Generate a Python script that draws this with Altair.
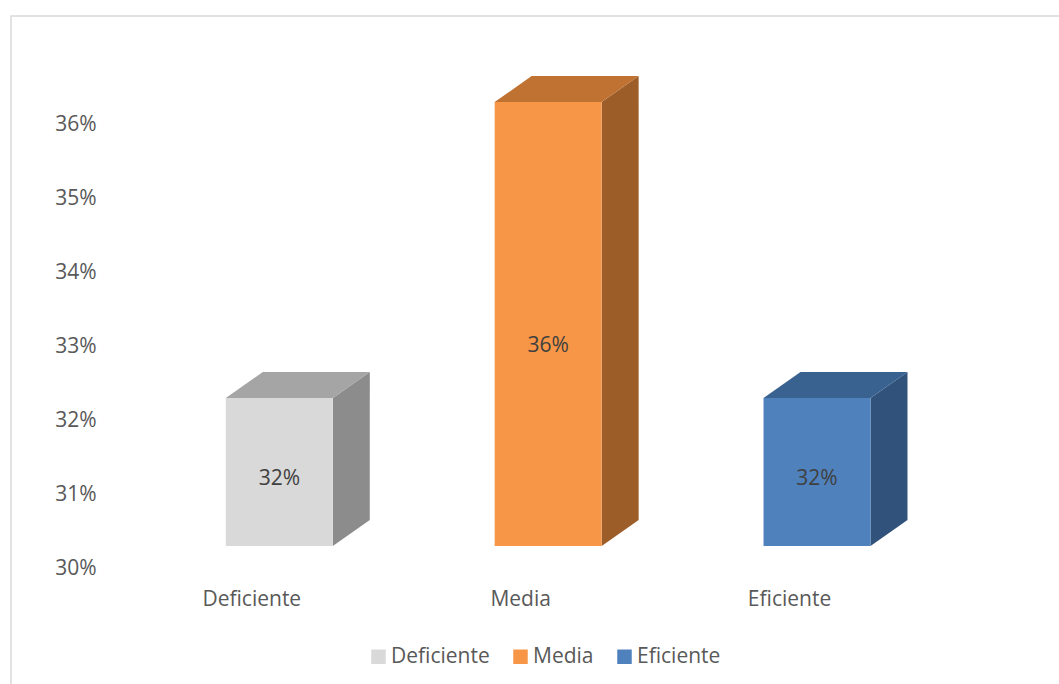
import altair as alt
import pandas as pd

# Category values (share of respondents)
categories = ["Deficiente", "Media", "Eficiente"]
values = [0.32, 0.36, 0.32]
y_ticks = [0.30, 0.31, 0.32, 0.33, 0.34, 0.35, 0.36]

# Face colours of each 3-D column: front, top, side
front_colors = ["#D9D9D9", "#F79646", "#4F81BD"]
top_colors = ["#A5A5A5", "#BF7232", "#3A6290"]
side_colors = ["#8C8C8C", "#9C5D29", "#31527A"]

BASE = 0.30      # floor of the value axis
HALF = 0.199     # half width of a column, in category units
DX = 0.1375      # depth shift to the right, in category units
DY = 0.00351     # depth shift upwards, in value units
FONT = "Open Sans"

front_rows, side_rows, top_rows = [], [], []
for i, (cat, v) in enumerate(zip(categories, values)):
    front_rows.append({
        "cat": cat, "pos": i, "xl": i - HALF, "xr": i + HALF,
        "base": BASE, "val": v, "label": f"{round(v * 100)}%",
        "label_y": BASE + (v - BASE) * 0.45,
    })
    side_rows += [
        {"cat": cat, "x": i + HALF, "lo": BASE, "hi": v},
        {"cat": cat, "x": i + HALF + DX, "lo": BASE + DY, "hi": v + DY},
    ]
    top_rows += [
        {"cat": cat, "y": v, "xl": i - HALF, "xr": i + HALF},
        {"cat": cat, "y": v + DY, "xl": i - HALF + DX, "xr": i + HALF + DX},
    ]

df_front = pd.DataFrame(front_rows)
df_side = pd.DataFrame(side_rows)
df_top = pd.DataFrame(top_rows)

xs = alt.Scale(domain=[-0.6, 2.9], nice=False, zero=False)
ys = alt.Scale(domain=[0.30, 0.37], nice=False, zero=False)

label_expr = "[" + ",".join(f"'{c}'" for c in categories) + "][datum.value]"
xaxis = alt.Axis(values=[0, 1, 2], labelExpr=label_expr, title=None, grid=False,
                 domain=False, ticks=False, labelOffset=-28, labelPadding=42,
                 labelFont=FONT, labelFontSize=21, labelColor="#595959")
yaxis = alt.Axis(values=y_ticks, format=".0%", title=None, grid=False,
                 domain=False, ticks=False, labelOffset=22, labelPadding=22,
                 labelFont=FONT, labelFontSize=21, labelColor="#595959")

frame = alt.Chart(pd.DataFrame({"k": [0]})).mark_rect(
    fill="transparent", stroke="#D9D9D9", strokeWidth=1.5
).encode(x=alt.value(-107), x2=alt.value(1200), y=alt.value(-12), y2=alt.value(800))

side = alt.Chart(df_side).mark_area(orient="vertical").encode(
    x=alt.X("x:Q", scale=xs, axis=xaxis),
    y=alt.Y("lo:Q", scale=ys, axis=yaxis),
    y2="hi:Q",
    detail="cat:N",
    color=alt.Color("cat:N", scale=alt.Scale(domain=categories, range=side_colors), legend=None),
)

top = alt.Chart(df_top).mark_area(orient="horizontal").encode(
    y=alt.Y("y:Q", scale=ys, axis=yaxis),
    x=alt.X("xl:Q", scale=xs, axis=xaxis),
    x2="xr:Q",
    detail="cat:N",
    color=alt.Color("cat:N", scale=alt.Scale(domain=categories, range=top_colors), legend=None),
)

front = alt.Chart(df_front).mark_rect().encode(
    x=alt.X("xl:Q", scale=xs, axis=xaxis),
    x2="xr:Q",
    y=alt.Y("base:Q", scale=ys, axis=yaxis),
    y2="val:Q",
    color=alt.Color(
        "cat:N",
        scale=alt.Scale(domain=categories, range=front_colors),
        legend=alt.Legend(
            orient="none", legendX=250, legendY=618, direction="horizontal",
            title=None, symbolType="square", symbolSize=210, symbolStrokeWidth=0,
            labelFont=FONT, labelFontSize=21, labelColor="#595959",
            labelOffset=2, columnPadding=20,
        ),
    ),
)

labels = alt.Chart(df_front).mark_text(
    font=FONT, fontSize=21, color="#404040", baseline="middle"
).encode(
    x=alt.X("pos:Q", scale=xs, axis=xaxis),
    y=alt.Y("label_y:Q", scale=ys, axis=yaxis),
    text="label:N",
)

chart = alt.layer(frame, side, top, front, labels).resolve_scale(
    color="independent"
).properties(
    width=941, height=518,
    padding={"left": 118, "top": 28, "right": 0, "bottom": 138},
    autosize="none",
    background="white",
).configure_view(stroke=None)

chart.save("out.html", embed_options={"renderer": "svg", "actions": False})
